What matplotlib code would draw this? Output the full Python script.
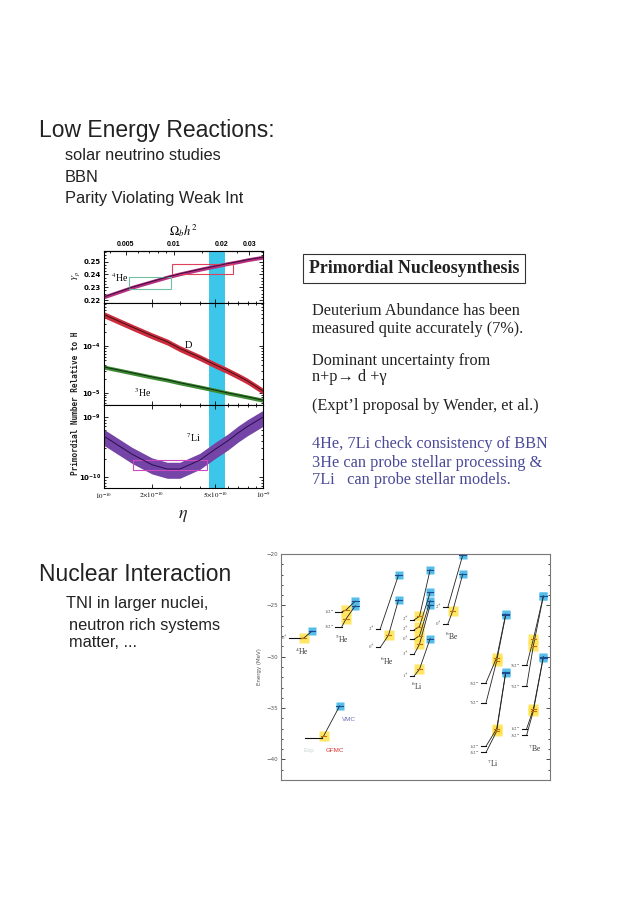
import numpy as np
import matplotlib
matplotlib.use("Agg")
import matplotlib.pyplot as plt
from matplotlib.patches import Rectangle
from matplotlib.ticker import FixedLocator, NullFormatter, LogLocator, MultipleLocator

plt.rcParams["mathtext.fontset"] = "stix"

# ---- BBN abundances versus eta ----
eta = np.array([1, 1.5, 2, 2.5, 3, 4, 5, 6, 7, 8, 10]) * 1e-10
yp = np.array([0.2225, 0.2300, 0.2345, 0.2380, 0.2405, 0.2440, 0.2465, 0.2485, 0.2500, 0.2515, 0.2535])
d_h = np.array([4.8e-4, 2.6e-4, 1.7e-4, 1.25e-4, 9.0e-5, 5.8e-5, 4.0e-5, 3.0e-5, 2.3e-5, 1.8e-5, 1.1e-5])
he3_h = np.array([3.6e-5, 2.7e-5, 2.2e-5, 1.9e-5, 1.65e-5, 1.35e-5, 1.15e-5, 1.0e-5, 9.0e-6, 8.2e-6, 7.0e-6])
li7_h = np.array([4.8e-10, 2.4e-10, 1.6e-10, 1.35e-10, 1.35e-10, 1.9e-10, 2.9e-10, 4.0e-10, 5.5e-10, 7.0e-10, 1.0e-9])
yp_err = 0.0015          # absolute half width of the band
d_err, he3_err, li_err = 0.15, 0.10, 0.30   # relative half widths

eta_band = (4.6e-10, 5.8e-10)              # concordance band
yp_box_lo = (1.43e-10, 2.62e-10, 0.229, 0.238)
yp_box_hi = (2.69e-10, 6.5e-10, 0.240, 0.248)
li_box = (1.53e-10, 4.47e-10, 1.3e-10, 1.9e-10)
omega_ticks = [0.005, 0.01, 0.02, 0.03]
omega_per_eta = 3.65e7

# ---- light nuclei energy levels (MeV) ----
nuclei = ["$^4$He", "$^5$He", "$^6$He", "$^6$Li", "$^6$Be", "$^7$Li", "$^7$Be", "key"]
nuc_x_exp = [5.5, 19.5, 31.8, 41.8, 52.0, 63.3, 75.5, 10.5]
nuc_w_exp = [4.0, 2.0, 1.2, 1.4, 1.3, 1.5, 1.5, 5.0]
nuc_x_gfmc = [10.0, 22.7, 35.5, 44.8, 54.8, 68.0, 79.0, 16.0]
nuc_x_vmc = [12.5, 25.5, 38.5, 48.0, 57.8, 70.7, 82.0, 20.8]
nuc_lab_x = [9.5, 21.5, 35.0, 44.0, 54.5, 67.0, 79.5]
nuc_lab_e = [-29.45, -28.3, -30.4, -32.85, -28.0, -40.4, -38.9]

state_nuc = [0, 1, 1, 2, 2, 3, 3, 3, 3, 3, 4, 4, 5, 5, 5, 5, 6, 6, 6, 6, 7]
state_j = ["$0^+$", "$3/2^-$", "$1/2^-$", "$0^+$", "$2^+$",
           "$1^+$", "$3^+$", "$0^+$", "$2^+$", "$2^+$", "$0^+$", "$2^+$",
           "$3/2^-$", "$1/2^-$", "$5/2^-$", "$7/2^-$",
           "$3/2^-$", "$1/2^-$", "$5/2^-$", "$7/2^-$", ""]
e_exp = [-28.2, -27.06, -25.63, -29.1, -27.3,
         -31.87, -29.76, -28.29, -27.38, -26.4, -26.83, -25.2,
         -39.3, -38.7, -32.52, -34.47,
         -37.62, -37.0, -30.83, -32.85, -37.9]
e_gfmc = [-28.2, -26.34, -25.46, -27.9, np.nan,
          -31.22, -28.78, -27.97, -27.06, -26.08, -25.53, np.nan,
          -37.24, -37.0, -30.08, -30.4,
          -35.28, -35.1, -28.29, -28.94, -37.72]
e_vmc = [-27.5, -25.04, -24.59, -24.46, -22.05,
         -28.23, -24.98, -24.55, -23.74, -21.53, -21.95, -20.1,
         -31.54, -31.5, -25.85, -25.95,
         -30.08, -29.98, -24.07, -24.13, -34.8]

W, H = 620, 921
fig = plt.figure(figsize=(W / 100, H / 100), dpi=100)


def fx(x):
    return x / W


def fy(y):
    return 1 - y / H


def axes_px(x0, y0, x1, y1, **kw):
    return fig.add_axes([fx(x0), fy(y1), (x1 - x0) / W, (y1 - y0) / H], **kw)


def put(x, y, s, **kw):
    kw.setdefault("va", "baseline")
    return fig.text(fx(x), fy(y), s, **kw)


sans = "Liberation Sans"
serif = ["Liberation Serif", "DejaVu Serif"]
ink = "#222"

# ---- slide text ----
put(39, 137, "Low Energy Reactions:", fontsize=16.5, family=sans, color=ink)
put(65, 160, "solar neutrino studies", fontsize=11.8, family=sans, color=ink)
put(65, 182, "BBN", fontsize=11.8, family=sans, color=ink)
put(65, 203, "Parity Violating Weak Int", fontsize=11.8, family=sans, color=ink)

put(39, 581, "Nuclear Interaction", fontsize=16.5, family=sans, color=ink)
put(66, 608, "TNI in larger nuclei,", fontsize=11.8, family=sans, color=ink)
put(69, 630, "neutron rich systems", fontsize=11.8, family=sans, color=ink)
put(69, 647, "matter, ...", fontsize=11.8, family=sans, color=ink)

put(309, 273, "Primordial Nucleosynthesis", fontsize=12.9, family=serif, weight="bold",
    color=ink, bbox=dict(boxstyle="square,pad=0.32", fc="white", ec="#333", lw=0.8))
body = dict(fontsize=11.7, family=serif, color=ink)
put(312, 315, "Deuterium Abundance has been", **body)
put(312, 333, "measured quite accurately (7%).", **body)
put(312, 365, "Dominant uncertainty from", **body)
put(312, 381, "n+p\u2192 d +\u03b3", **body)
put(312, 410, "(Expt\u2019l proposal by Wender, et al.)", **body)
blue = dict(body, color="#4a4a98")
put(312, 448, "4He, 7Li check consistency of BBN", **blue)
put(312, 467, "3He can probe stellar processing &", **blue)
put(312, 484, "7Li   can probe stellar models.", **blue)

# ---- BBN figure: three stacked panels ----
ax_y = axes_px(104, 251, 263, 303)
ax_d = axes_px(104, 303, 263, 405, sharex=ax_y)
ax_li = axes_px(104, 405, 263, 488, sharex=ax_y)
tick_font = dict(fontsize=5, family=sans, weight="bold")

for ax in (ax_y, ax_d, ax_li):
    ax.set_xscale("log")
    ax.axvspan(*eta_band, color="#3cc6ea", lw=0, zorder=1)
    ax.tick_params(which="both", direction="in", right=True, top=True, width=0.6,
                   labelsize=5, pad=2)
    ax.tick_params(which="major", length=3)
    ax.tick_params(which="minor", length=1.6)
    for s in ax.spines.values():
        s.set_linewidth(0.8)
    for lab in ax.get_yticklabels():
        lab.set_fontweight("bold")

ax_y.set_xlim(eta[0], eta[-1])

# Yp panel
ax_y.fill_between(eta, yp - yp_err, yp + yp_err, color="#b8307e", lw=0, zorder=2)
ax_y.plot(eta, yp, color="#3a0c3e", lw=0.7, zorder=3)
for (x0, x1, y0, y1), ec in ((yp_box_lo, "#6fc0a0"), (yp_box_hi, "#e0405a")):
    ax_y.add_patch(Rectangle((x0, y0), x1 - x0, y1 - y0, fill=False, ec=ec, lw=0.8, zorder=2))
ax_y.set_ylim(0.2177, 0.2583)
ax_y.yaxis.set_major_locator(FixedLocator([0.22, 0.23, 0.24, 0.25]))
ax_y.yaxis.set_minor_locator(MultipleLocator(0.0025))
ax_y.text(1.1e-10, 0.2372, "$^4$He", fontsize=7, family=serif, va="center", zorder=4)
ax_y.tick_params(axis="x", which="both", top=False)

top = ax_y.secondary_xaxis("top", functions=(lambda e: e * omega_per_eta,
                                               lambda o: o / omega_per_eta))
top.xaxis.set_major_locator(FixedLocator(omega_ticks))
top.xaxis.set_minor_locator(FixedLocator([0.004, 0.006, 0.007, 0.008, 0.009, 0.015, 0.025]))
top.xaxis.set_minor_formatter(NullFormatter())
top.set_xticklabels([f"{o:g}" for o in omega_ticks], **tick_font)
top.tick_params(which="both", direction="in", width=0.6, pad=2)
top.tick_params(which="major", length=3)
top.tick_params(which="minor", length=1.6)
top.set_xlabel(r"$\Omega_b h^2$", fontsize=9, labelpad=4)

# D and 3He panel
ax_d.set_yscale("log")
ax_d.fill_between(eta, d_h * (1 - d_err), d_h * (1 + d_err), color="#cc2c3c", lw=0, zorder=2)
ax_d.plot(eta, d_h, color="#40101a", lw=0.7, zorder=3)
ax_d.fill_between(eta, he3_h * (1 - he3_err), he3_h * (1 + he3_err), color="#3d8a34", lw=0, zorder=2)
ax_d.plot(eta, he3_h, color="#102a10", lw=0.7, zorder=3)
ax_d.set_ylim(5.5e-6, 8.5e-4)
ax_d.yaxis.set_major_locator(FixedLocator([1e-5, 1e-4]))
ax_d.yaxis.set_minor_locator(LogLocator(subs=np.arange(2, 10)))
ax_d.yaxis.set_minor_formatter(NullFormatter())
ax_d.text(3.4e-10, 1.05e-4, "D", fontsize=7.5, family=serif, ha="center", va="center", zorder=4)
ax_d.text(1.75e-10, 1.0e-5, "$^3$He", fontsize=7, family=serif, ha="center", va="center", zorder=4)

# 7Li panel
ax_li.set_yscale("log")
ax_li.fill_between(eta, li7_h * (1 - li_err), li7_h * (1 + li_err), color="#7444a6", lw=0, zorder=2)
ax_li.plot(eta, li7_h, color="#2a0e50", lw=0.7, zorder=3)
x0, x1, y0, y1 = li_box
ax_li.add_patch(Rectangle((x0, y0), x1 - x0, y1 - y0, fill=False, ec="#d048c0", lw=0.8, zorder=2))
ax_li.set_ylim(6.5e-11, 1.6e-9)
ax_li.yaxis.set_major_locator(FixedLocator([1e-10, 1e-9]))
ax_li.yaxis.set_minor_locator(LogLocator(subs=np.arange(2, 10)))
ax_li.yaxis.set_minor_formatter(NullFormatter())
ax_li.text(3.67e-10, 4.5e-10, "$^7$Li", fontsize=7, family=serif, ha="center", va="center", zorder=4)

for ax in (ax_y, ax_d):
    ax.tick_params(axis="x", labelbottom=False)
ax_d.tick_params(axis="x", which="both", top=True)
ax_li.xaxis.set_major_locator(FixedLocator([1e-10, 2e-10, 5e-10, 1e-9]))
ax_li.xaxis.set_minor_formatter(NullFormatter())
ax_li.set_xticklabels([r"$10^{-10}$", r"$2{\times}10^{-10}$", r"$5{\times}10^{-10}$", r"$10^{-9}$"])
ax_li.tick_params(axis="x", labelsize=5)
ax_li.set_xlim(eta[0], eta[-1])

put(75, 403, "Primordial Number Relative to H", rotation=90, ha="center", va="center",
    fontsize=5.6, family="DejaVu Sans Mono", weight="bold", color=ink)
put(76, 276, "$Y_p$", rotation=90, ha="center", va="center", fontsize=6.5, color=ink)
put(183, 515, r"$\eta$", ha="center", va="center", fontsize=13, color=ink)

# ---- energy level diagram ----
ax_n = axes_px(281, 554, 550, 780)
ax_n.set_xlim(3.2, 84.0)
ax_n.set_ylim(-42, -20)
ax_n.set_xticks([])
ax_n.yaxis.set_major_locator(MultipleLocator(5))
ax_n.yaxis.set_minor_locator(MultipleLocator(1))
ax_n.tick_params(axis="y", which="both", direction="in", right=True, width=0.5,
                 labelsize=4, labelcolor="#555", pad=2)
ax_n.tick_params(axis="y", which="major", length=3)
ax_n.tick_params(axis="y", which="minor", length=1.5)
for s in ax_n.spines.values():
    s.set_linewidth(0.8)
    s.set_color("#777")
ax_n.set_ylabel("Energy (MeV)", fontsize=4, color="#555", labelpad=3)

for k, n in enumerate(state_nuc):
    xe0 = nuc_x_exp[n]
    xe1 = xe0 + nuc_w_exp[n]
    xg, xv = nuc_x_gfmc[n], nuc_x_vmc[n]
    ee, eg, ev = e_exp[k], e_gfmc[k], e_vmc[k]
    ax_n.plot([xe0, xe1], [ee, ee], color="#111", lw=0.8, zorder=4)
    if state_j[k]:
        ax_n.text(xe0 - 0.3, ee, state_j[k], fontsize=3.4, family=serif, color="#444",
                  ha="right", va="center")
    if np.isnan(eg):
        ax_n.plot([xe1, xv], [ee, ev], color="#222", lw=0.6, zorder=3)
    else:
        ax_n.plot([xe1, xg, xv], [ee, eg, ev], color="#222", lw=0.6, zorder=3)
        ax_n.plot([xg], [eg], marker="s", ms=7, color="#ffe24a", alpha=0.85, mec="none", zorder=2)
        ax_n.plot([xg - 0.8, xg + 0.8], [eg, eg], color="#c07010", lw=0.8, zorder=4)
    ax_n.plot([xv], [ev], marker="s", ms=5.5, color="#55bde8", mec="none", zorder=2)
    ax_n.plot([xv - 1.0, xv + 1.0], [ev, ev], color="#1a4a90", lw=0.8, zorder=4)

for lab, x, e in zip(nuclei, nuc_lab_x, nuc_lab_e):
    ax_n.text(x, e, lab, fontsize=5.5, family=serif, color="#333", ha="center", va="center")

# legend sample in the lower left corner
key = state_nuc.index(nuclei.index("key"))
kn = state_nuc[key]
ax_n.text(nuc_x_vmc[kn] + 0.6, e_vmc[key] - 1.3, "VMC", fontsize=4.5, family=sans,
          color="#6a6ab4", va="center")
ax_n.text(nuc_x_gfmc[kn] + 0.5, e_exp[key] - 1.2, "GFMC", fontsize=4.5, family=sans,
          color="#e03030", va="center")
ax_n.text(nuc_x_exp[kn] - 0.6, e_exp[key] - 1.2, "Exp", fontsize=4.5, family=sans,
          color="#c8d6cc", va="center")

fig.savefig("out.png", dpi=100, facecolor="white")
